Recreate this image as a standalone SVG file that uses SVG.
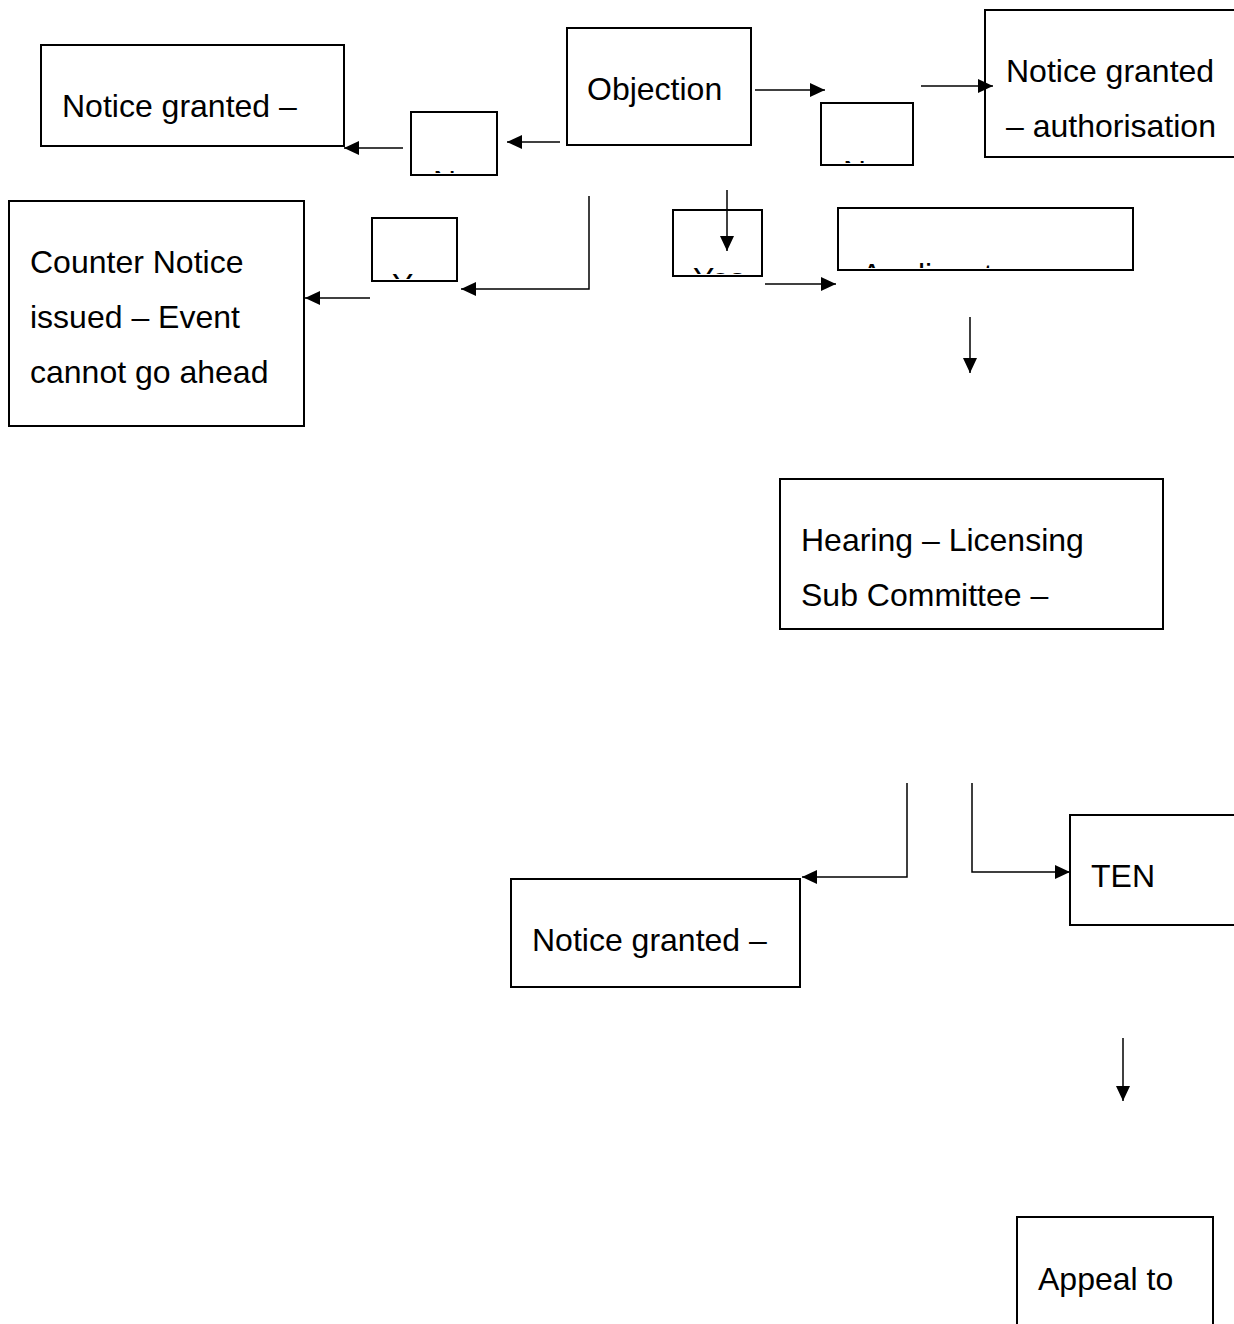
<svg xmlns="http://www.w3.org/2000/svg" width="1234" height="1324" viewBox="0 0 1234 1324">
<style>
.box{fill:#fff;stroke:#000;stroke-width:2}
.t{font-family:"Liberation Sans",Arial,sans-serif;font-size:32px;fill:#000}
.c{fill:none;stroke:#000;stroke-width:1.5}
</style>
<defs>
<marker id="ah" markerWidth="15" markerHeight="14" refX="15" refY="7" orient="auto" markerUnits="userSpaceOnUse">
<path d="M0,0 L15,7 L0,14 Z" fill="#000"/>
</marker>
<clipPath id="cNo1"><rect x="412" y="113" width="84" height="60"/></clipPath>
<clipPath id="cNo2"><rect x="822" y="104" width="90" height="59"/></clipPath>
<clipPath id="cYes1"><rect x="373" y="219" width="83" height="60"/></clipPath>
<clipPath id="cYes2"><rect x="674" y="211" width="87" height="63"/></clipPath>
<clipPath id="cApp"><rect x="839" y="209" width="293" height="59"/></clipPath>
</defs>
<rect width="1234" height="1324" fill="#fff"/>

<g id="n-notice-left">
<rect class="box" x="41" y="45" width="303" height="101"/>
<text class="t" x="62" y="117">Notice granted –</text>
</g>
<g id="n-objection">
<rect class="box" x="567" y="28" width="184" height="117"/>
<text class="t" x="587" y="100">Objection</text>
</g>
<g id="n-no-left">
<rect class="box" x="411" y="112" width="86" height="63"/>
<text class="t" x="433" y="193" clip-path="url(#cNo1)">No</text>
</g>
<g id="n-no-right">
<rect class="box" x="821" y="103" width="92" height="62"/>
<text class="t" x="843" y="183" clip-path="url(#cNo2)">No</text>
</g>
<g id="n-notice-auth">
<rect class="box" x="985" y="10" width="260" height="147"/>
<text class="t" x="1006" y="82">Notice granted</text>
<text class="t" x="1006" y="137">– authorisation</text>
</g>
<g id="n-counter">
<rect class="box" x="9" y="201" width="295" height="225"/>
<text class="t" x="30" y="273">Counter Notice</text>
<text class="t" x="30" y="328">issued – Event</text>
<text class="t" x="30" y="383">cannot go ahead</text>
</g>
<g id="n-yes-left">
<rect class="box" x="372" y="218" width="85" height="63"/>
<text class="t" x="392" y="296" clip-path="url(#cYes1)">Yes</text>
</g>
<g id="n-yes-mid">
<rect class="box" x="673" y="210" width="89" height="66"/>
<text class="t" x="693" y="290" clip-path="url(#cYes2)">Yes</text>
</g>
<g id="n-applicant">
<rect class="box" x="838" y="208" width="295" height="62"/>
<text class="t" x="861" y="286" clip-path="url(#cApp)">Applicant</text>
</g>
<g id="n-hearing">
<rect class="box" x="780" y="479" width="383" height="150"/>
<text class="t" x="801" y="551">Hearing – Licensing</text>
<text class="t" x="801" y="606">Sub Committee –</text>
</g>
<g id="n-ten">
<rect class="box" x="1070" y="815" width="180" height="110"/>
<text class="t" x="1091" y="887">TEN</text>
</g>
<g id="n-notice-bottom">
<rect class="box" x="511" y="879" width="289" height="108"/>
<text class="t" x="532" y="951">Notice granted –</text>
</g>
<g id="n-appeal">
<rect class="box" x="1017" y="1217" width="196" height="120"/>
<text class="t" x="1038" y="1290">Appeal to</text>
</g>

<g id="connectors">
<path class="c" d="M560,142 H507" marker-end="url(#ah)"/>
<path class="c" d="M403,148 H344" marker-end="url(#ah)"/>
<path class="c" d="M755,90 H825" marker-end="url(#ah)"/>
<path class="c" d="M921,86 H993" marker-end="url(#ah)"/>
<path class="c" d="M589,196 V289 H461" marker-end="url(#ah)"/>
<path class="c" d="M370,298 H305" marker-end="url(#ah)"/>
<path class="c" d="M727,190 V251" marker-end="url(#ah)"/>
<path class="c" d="M765,284 H836" marker-end="url(#ah)"/>
<path class="c" d="M970,317 V373" marker-end="url(#ah)"/>
<path class="c" d="M907,783 V877 H802" marker-end="url(#ah)"/>
<path class="c" d="M972,783 V872 H1070" marker-end="url(#ah)"/>
<path class="c" d="M1123,1038 V1101" marker-end="url(#ah)"/>
</g>
</svg>
